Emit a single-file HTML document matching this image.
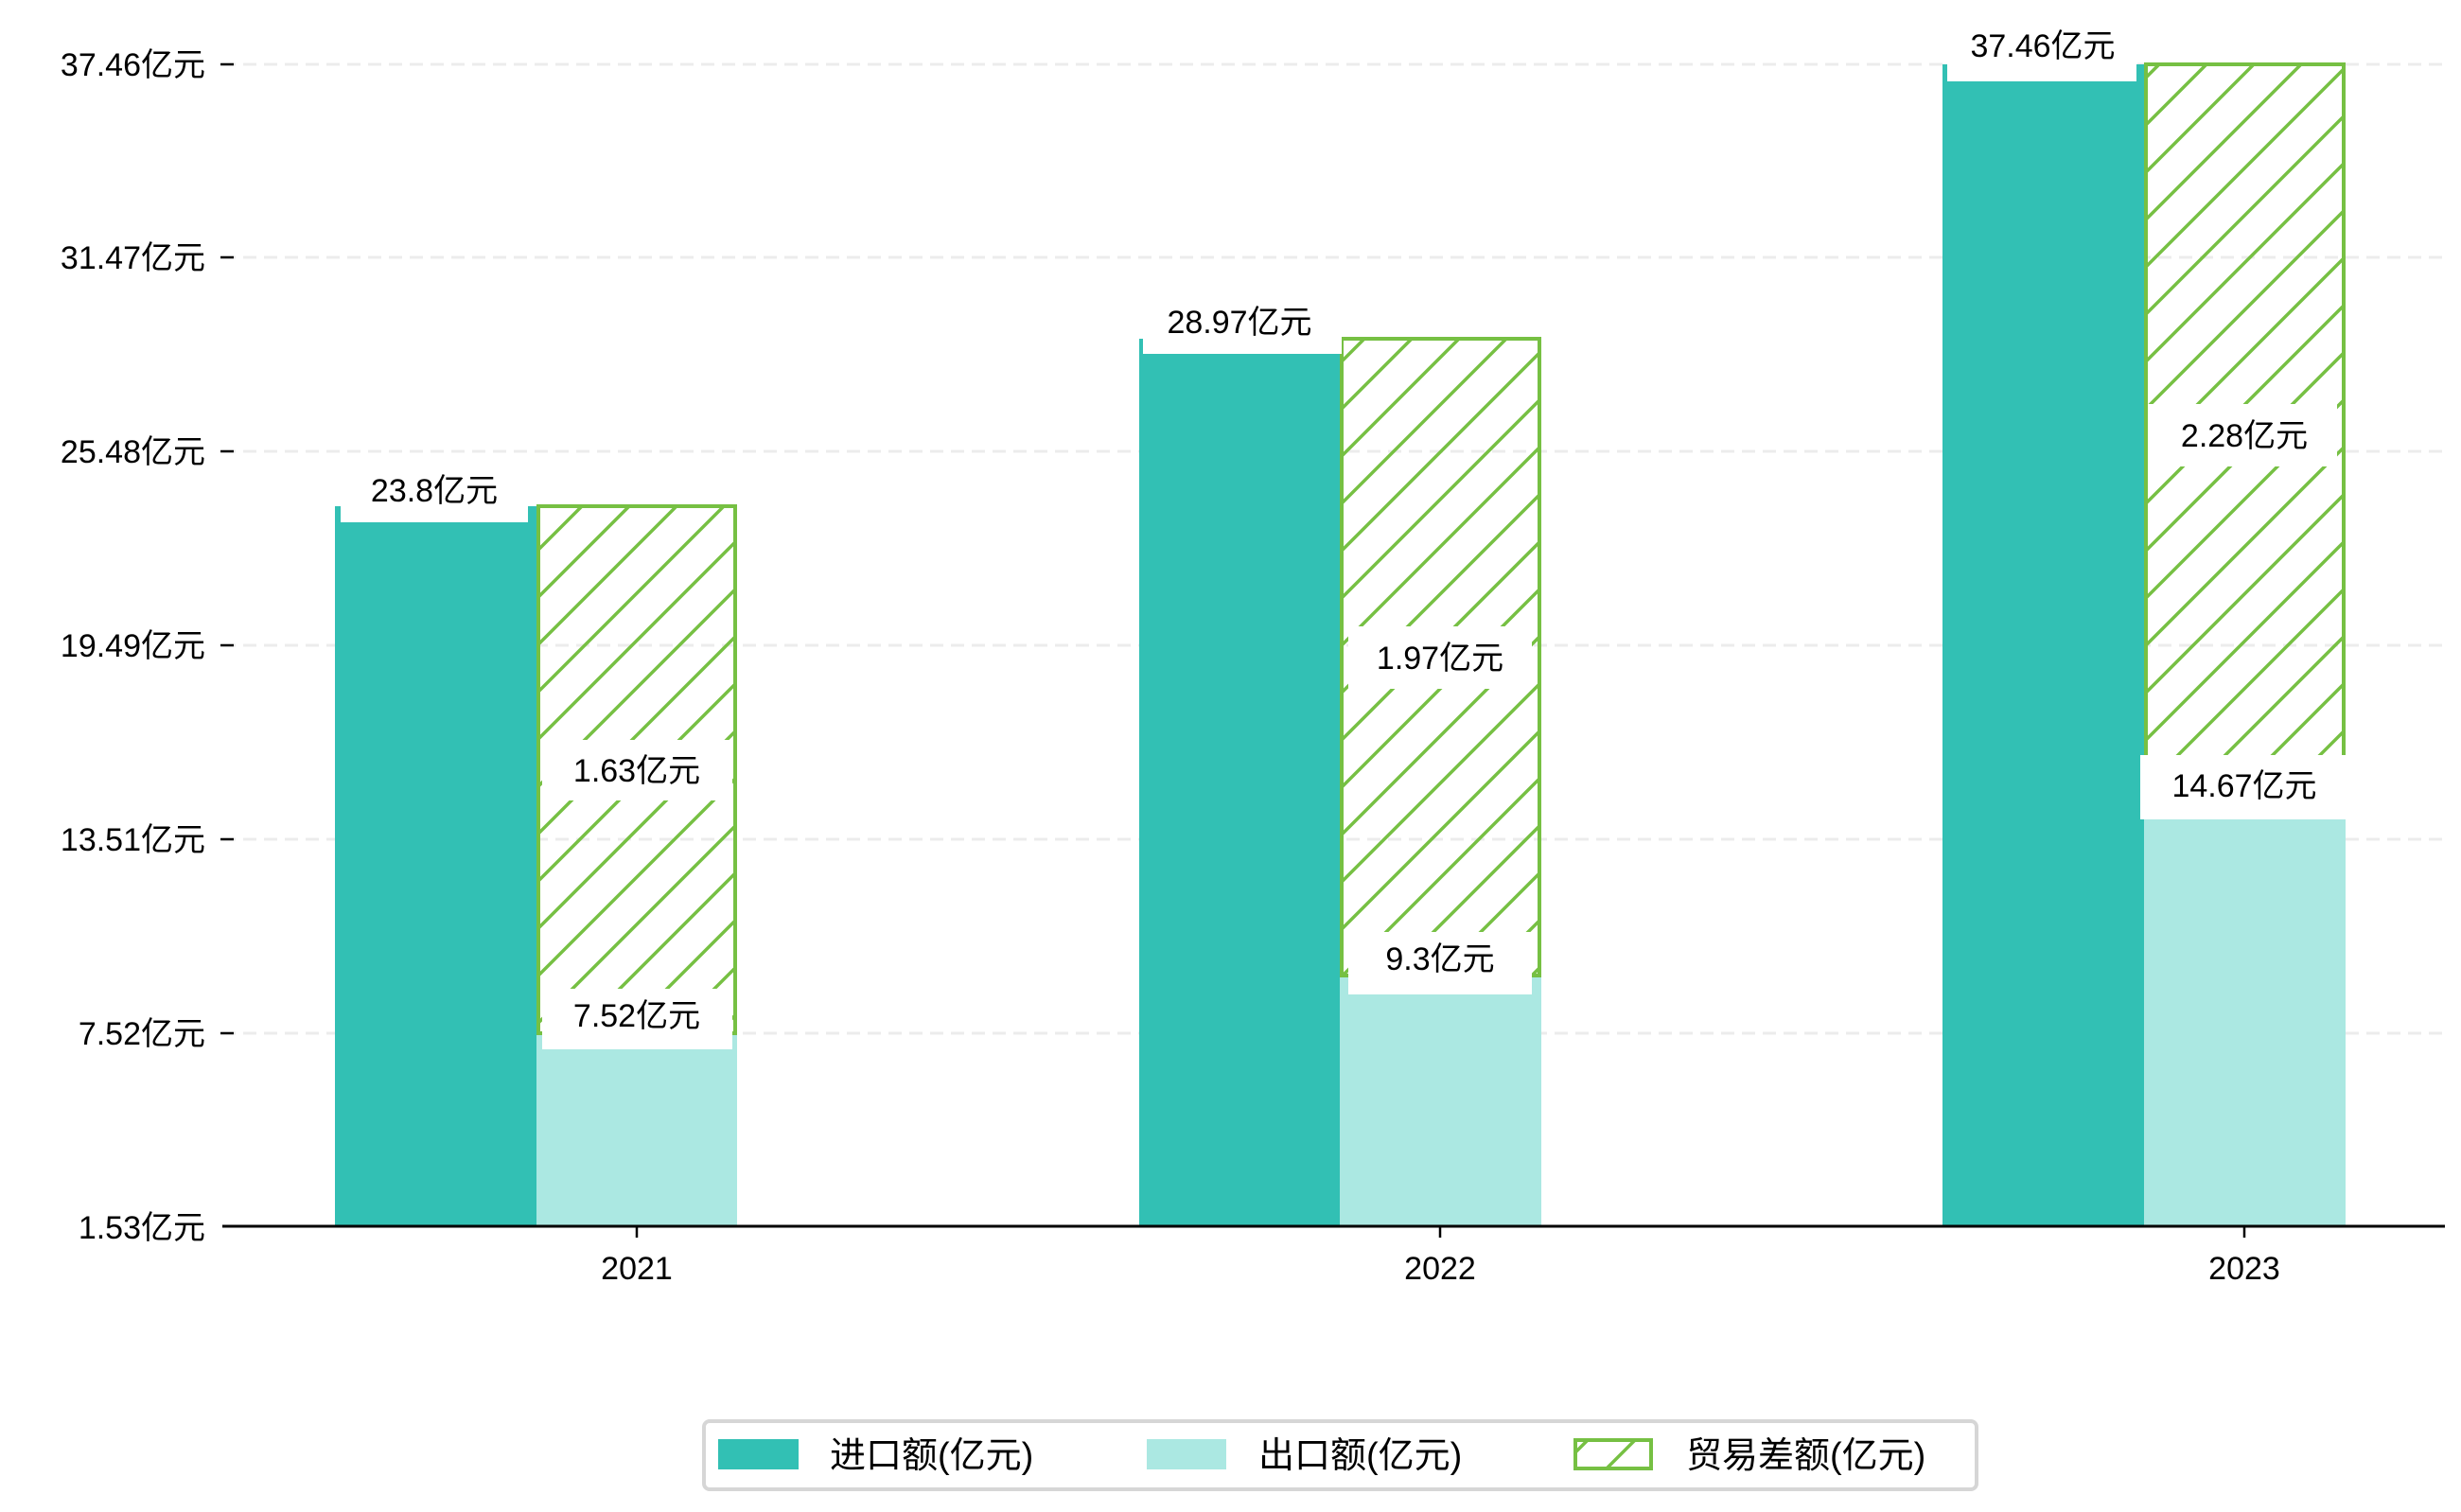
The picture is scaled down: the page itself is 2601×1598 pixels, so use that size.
<!DOCTYPE html>
<html><head><meta charset="utf-8"><style>
html,body{margin:0;padding:0;background:#fff}
svg{display:block}
text{font-family:"Liberation Sans","WenQuanYi Zen Hei","Noto Sans CJK SC",sans-serif;fill:#000}
</style></head><body>
<svg width="2601" height="1598" viewBox="0 0 2601 1598" xmlns="http://www.w3.org/2000/svg">
<defs>
<pattern id="h" patternUnits="userSpaceOnUse" width="50" height="50">
<path d="M-10,10 L10,-10 M0,50 L50,0 M40,60 L60,40" stroke="#76C043" stroke-width="3.5"/>
</pattern>
</defs>
<g stroke="#ececec" stroke-width="3" stroke-dasharray="14,8">
<line x1="235" y1="68" x2="2584" y2="68"/>
<line x1="235" y1="272" x2="2584" y2="272"/>
<line x1="235" y1="477" x2="2584" y2="477"/>
<line x1="235" y1="682" x2="2584" y2="682"/>
<line x1="235" y1="887" x2="2584" y2="887"/>
<line x1="235" y1="1092" x2="2584" y2="1092"/>
</g>
<g font-size="34" text-anchor="end">
<text x="217" y="80">37.46亿元</text>
<text x="217" y="284">31.47亿元</text>
<text x="217" y="489">25.48亿元</text>
<text x="217" y="694">19.49亿元</text>
<text x="217" y="899">13.51亿元</text>
<text x="217" y="1104">7.52亿元</text>
<text x="217" y="1309">1.53亿元</text>
</g>
<g stroke="#000" stroke-width="2.5">
<line x1="233" y1="68" x2="247" y2="68"/><line x1="233" y1="272" x2="247" y2="272"/>
<line x1="233" y1="477" x2="247" y2="477"/><line x1="233" y1="682" x2="247" y2="682"/>
<line x1="233" y1="887" x2="247" y2="887"/><line x1="233" y1="1092" x2="247" y2="1092"/>
</g>
<!-- bars -->
<rect x="354" y="535" width="213" height="761" fill="#32C0B4"/>
<rect x="567" y="1092" width="212" height="204" fill="#ABE8E2"/>
<rect x="569" y="535" width="208" height="557" fill="url(#h)" stroke="#76C043" stroke-width="4"/>
<rect x="1204" y="358" width="212" height="938" fill="#32C0B4"/>
<rect x="1416" y="1031" width="213" height="265" fill="#ABE8E2"/>
<rect x="1418" y="358" width="209" height="673" fill="url(#h)" stroke="#76C043" stroke-width="4"/>
<rect x="2053" y="68" width="213" height="1228" fill="#32C0B4"/>
<rect x="2266" y="848" width="213" height="448" fill="#ABE8E2"/>
<rect x="2268" y="68" width="209" height="780" fill="url(#h)" stroke="#76C043" stroke-width="4"/>
<!-- label boxes -->
<g fill="#fff">
<rect x="360" y="496" width="198" height="56"/>
<rect x="573" y="1045" width="201" height="64"/>
<rect x="573" y="782" width="201" height="64"/>
<rect x="1208" y="318" width="210" height="56"/>
<rect x="1425" y="985" width="194" height="66"/>
<rect x="1425" y="662" width="194" height="66"/>
<rect x="2058" y="26" width="200" height="60"/>
<rect x="2262" y="798" width="220" height="68"/>
<rect x="2270" y="427" width="200" height="66"/>
</g>
<g font-size="34" text-anchor="middle">
<text x="459" y="530">23.8亿元</text>
<text x="673" y="1085">7.52亿元</text>
<text x="673" y="826">1.63亿元</text>
<text x="1310" y="352">28.97亿元</text>
<text x="1522" y="1025">9.3亿元</text>
<text x="1522" y="707">1.97亿元</text>
<text x="2159" y="60">37.46亿元</text>
<text x="2372" y="842">14.67亿元</text>
<text x="2372" y="472">2.28亿元</text>
</g>
<line x1="235" y1="1296" x2="2584" y2="1296" stroke="#000" stroke-width="3"/>
<g stroke="#000" stroke-width="2.5">
<line x1="673" y1="1296" x2="673" y2="1308"/><line x1="1522" y1="1296" x2="1522" y2="1308"/><line x1="2372" y1="1296" x2="2372" y2="1308"/>
</g>
<g font-size="34" text-anchor="middle">
<text x="673" y="1352">2021</text><text x="1522" y="1352">2022</text><text x="2372" y="1352">2023</text>
</g>
<!-- legend -->
<rect x="744" y="1502" width="1345" height="72" rx="6" fill="#fff" stroke="#d6d6d6" stroke-width="4"/>
<rect x="759" y="1521" width="85" height="32" fill="#32C0B4"/>
<rect x="1212" y="1521" width="84" height="32" fill="#ABE8E2"/>
<rect x="1665" y="1522" width="80" height="30" fill="url(#h)" stroke="#76C043" stroke-width="4"/>
<g font-size="38">
<text x="877" y="1551">进口额(亿元)</text>
<text x="1330" y="1551">出口额(亿元)</text>
<text x="1782" y="1551">贸易差额(亿元)</text>
</g>
</svg>
</body></html>
